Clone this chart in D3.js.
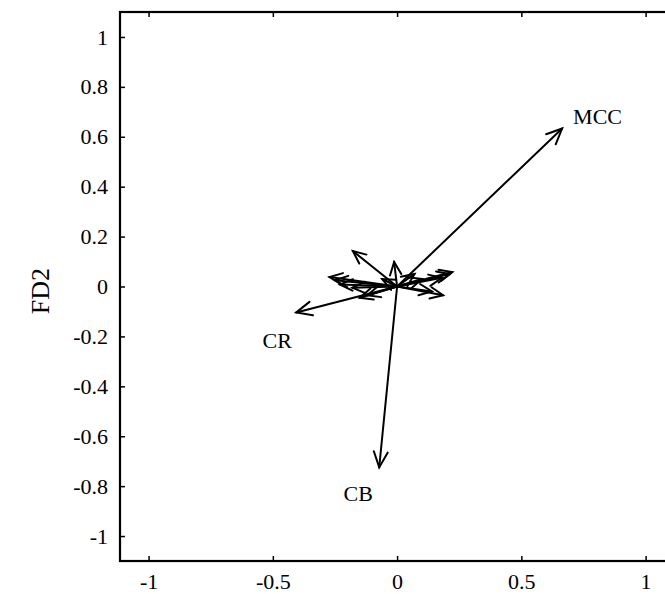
<!DOCTYPE html>
<html><head><meta charset="utf-8">
<script src="https://cdn.jsdelivr.net/npm/d3@7"></script>
<style>body{margin:0;background:#fff}svg{display:block}text{font-family:"Liberation Serif","Times New Roman",serif}</style>
</head><body><div id="c"></div>
<script>
const xTicks = [-1, -0.5, 0, 0.5, 1];
const yTicks = [-1, -0.8, -0.6, -0.4, -0.2, 0, 0.2, 0.4, 0.6, 0.8, 1];
const labeledNames = ["MCC", "CR", "CB"];
const labeledX = [0.664, -0.406, -0.072];
const labeledY = [0.633, -0.104, -0.725];
const smallX = [-0.178, -0.012, -0.272, -0.250, -0.230, -0.180, -0.150, -0.120, 0.222, 0.212, 0.180, 0.185, 0.140, 0.070, 0.100, -0.060];
const smallY = [0.142, 0.098, 0.038, 0.025, 0.008, -0.005, -0.045, -0.035, 0.058, 0.050, 0.035, -0.035, -0.020, 0.050, 0.030, 0.030];

const W = 665, H = 594;
const svg = d3.select("#c").append("svg").attr("width", W).attr("height", H);
const x = d3.scaleLinear().domain([-1.115, 1.115]).range([120, 674.2]);
const y = d3.scaleLinear().domain([-1.1, 1.1]).range([561, 12]);

// frame
svg.append("rect").attr("x", x.range()[0]).attr("y", y.range()[1])
  .attr("width", x.range()[1] - x.range()[0]).attr("height", y.range()[0] - y.range()[1])
  .attr("fill", "none").attr("stroke", "#000").attr("stroke-width", 2.2);

const fmt = d => String(d);
const gx = svg.append("g").attr("transform", `translate(0,${y.range()[0]})`)
  .call(d3.axisBottom(x).tickValues(xTicks).tickSize(-5).tickPadding(12).tickFormat(fmt));
const gxt = svg.append("g").attr("transform", `translate(0,${y.range()[1]})`)
  .call(d3.axisTop(x).tickValues(xTicks).tickSize(-5).tickFormat(""));
const gy = svg.append("g").attr("transform", `translate(${x.range()[0]},0)`)
  .call(d3.axisLeft(y).tickValues(yTicks).tickSize(-5).tickPadding(12).tickFormat(fmt));
[gx, gxt, gy].forEach(g => {
  g.attr("font-size", 22).attr("font-family", '"Liberation Serif", serif');
  g.select(".domain").remove();
  g.selectAll(".tick line").attr("stroke", "#000").attr("stroke-width", 1.5);
  g.selectAll("text").attr("fill", "#000");
});

svg.append("text").attr("transform", "translate(49,291) rotate(-90)")
  .attr("text-anchor", "middle").attr("font-size", 26).text("FD2");

function arrow(vx, vy, hl) {
  const x0 = x(0), y0 = y(0), x1 = x(vx), y1 = y(vy);
  const ang = Math.atan2(y1 - y0, x1 - x0);
  const a = 0.42;
  const g = svg.append("g").attr("stroke", "#000").attr("stroke-width", 2).attr("fill", "none")
    .attr("stroke-linecap", "round");
  g.append("line").attr("x1", x0).attr("y1", y0).attr("x2", x1).attr("y2", y1);
  const p = d3.path();
  p.moveTo(x1 - hl * Math.cos(ang - a), y1 - hl * Math.sin(ang - a));
  p.lineTo(x1, y1);
  p.lineTo(x1 - hl * Math.cos(ang + a), y1 - hl * Math.sin(ang + a));
  g.append("path").attr("d", p.toString());
}
smallX.forEach((d, i) => arrow(d, smallY[i], 14));
labeledX.forEach((d, i) => arrow(d, labeledY[i], 17));

const labelOff = [[11, -5, "start"], [-19, 36, "middle"], [-21, 34, "middle"]];
labeledNames.forEach((n, i) => {
  svg.append("text").attr("x", x(labeledX[i]) + labelOff[i][0]).attr("y", y(labeledY[i]) + labelOff[i][1])
    .attr("text-anchor", labelOff[i][2]).attr("font-size", 22).text(n);
});
</script></body></html>
